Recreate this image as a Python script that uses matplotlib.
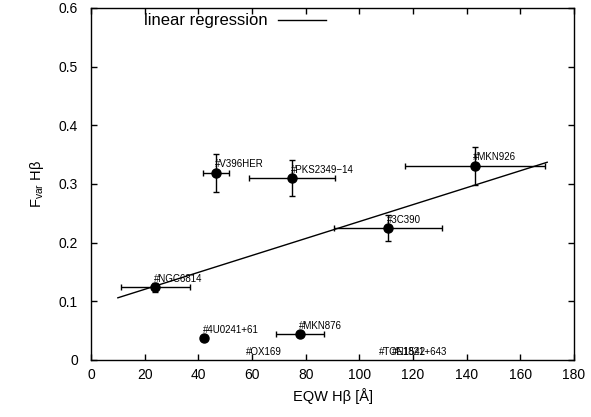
import numpy as np
import matplotlib
matplotlib.use('Agg')
import matplotlib.pyplot as plt

plt.rcParams['font.family'] = ['Liberation Sans', 'DejaVu Sans']

# 数据
names = ['#NGC6814', '#V396HER', '#PKS2349\u221214', '#MKN926', '#3C390',
         '#4U0241+61', '#MKN876', '#OX169', '#TON1542', '#E1821+643']
eqw = [24.0, 46.6, 75.0, 143.0, 110.7, 42.1, 78.0, 58.1, 107.7, 112.6]
eqw_err = [13.0, 5.0, 16.0, 26.0, 20.0, 0.0, 9.0, 0.0, 0.0, 0.0]
fvar = [0.124, 0.319, 0.310, 0.331, 0.225, 0.0375, 0.044, 0.0, 0.0, 0.0]
fvar_err = [0.008, 0.032, 0.031, 0.032, 0.022, 0.0, 0.0, 0.0, 0.0, 0.0]

# 线性回归的两个端点
reg_x = [10.0, 170.0]
reg_y = [0.106, 0.337]

x_ticks = [0, 20, 40, 60, 80, 100, 120, 140, 160, 180]
y_ticks = [0, 0.1, 0.2, 0.3, 0.4, 0.5, 0.6]
y_tick_labels = ['0', '0.1', '0.2', '0.3', '0.4', '0.5', '0.6']

fig = plt.figure(figsize=(5.91, 4.17), dpi=100)
ax = fig.add_axes([0.154, 0.1367, 0.8173, 0.8443])

# 回归线
ax.plot(reg_x, reg_y, color='black', lw=1.0, label='linear regression')

# 误差棒 + 数据点 (F_var = 0 的只画标签)
det = [i for i in range(len(names)) if fvar[i] > 0]
ax.errorbar([eqw[i] for i in det], [fvar[i] for i in det],
            xerr=[eqw_err[i] for i in det], yerr=[fvar_err[i] for i in det],
            fmt='o', color='black', ms=6.5, elinewidth=1.0, capsize=2.2,
            capthick=1.0, zorder=3)

# 标签
for i in range(len(names)):
    ax.annotate(names[i], (eqw[i], fvar[i]), xytext=(-1, 6),
                textcoords='offset points', ha='left', va='center',
                fontsize=7, clip_on=False)

ax.set_xlim(0, 180)
ax.set_ylim(0, 0.6)
ax.set_xticks(x_ticks)
ax.set_yticks(y_ticks)
ax.set_yticklabels(y_tick_labels)
ax.tick_params(direction='in', top=True, right=True, length=4.5,
               width=1.0, labelsize=10)
ax.tick_params(axis='x', pad=6)
ax.tick_params(axis='y', pad=9.5)
for s in ax.spines.values():
    s.set_linewidth(1.0)

ax.set_xlabel('EQW H\u03b2 [\u00c5]', fontsize=10.5, labelpad=4)
ax.set_ylabel('F$_\\mathregular{var}$ H\u03b2', fontsize=10.5, labelpad=9)

ax.legend(loc='center left', bbox_to_anchor=(0.1097, 0.963), frameon=False,
          markerfirst=False, fontsize=12, handlelength=2.9,
          handletextpad=0.6, borderpad=0, borderaxespad=0)

plt.savefig('out.png', dpi=100)
